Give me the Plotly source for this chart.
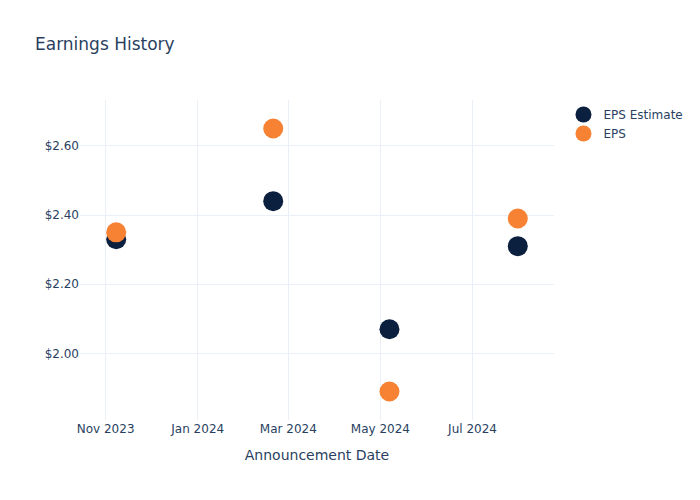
import plotly.graph_objects as go

dates = ["2023-11-08", "2024-02-20", "2024-05-07", "2024-07-31"]
eps_estimate = [2.33, 2.44, 2.07, 2.31]
eps_actual = [2.35, 2.65, 1.89, 2.39]

fig = go.Figure()
fig.add_trace(go.Scatter(x=dates, y=eps_estimate, mode="markers", name="EPS Estimate",
                         marker=dict(color="#0b1f3f", size=20)))
fig.add_trace(go.Scatter(x=dates, y=eps_actual, mode="markers", name="EPS",
                         marker=dict(color="#f78234", size=20)))
fig.update_layout(
    width=700, height=500,
    template="plotly_white",
    title=dict(text="Earnings History"),
    font=dict(family="DejaVu Sans"),
    xaxis=dict(title=dict(text="Announcement Date"), dtick="M2", tickformat="%b %Y"),
    yaxis=dict(tickprefix="$", tickformat=".2f"),
)
fig.write_html("out.html")
